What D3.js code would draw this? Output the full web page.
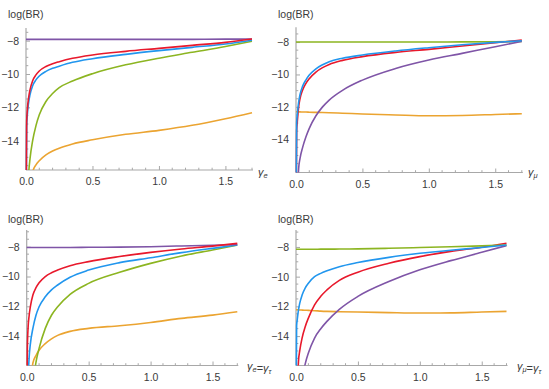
<!DOCTYPE html>
<html><head><meta charset="utf-8">
<script src="https://cdn.jsdelivr.net/npm/d3@7"></script>
<style>
html,body{margin:0;padding:0;background:#fff;}
svg{display:block;}
text{font-family:"Liberation Sans",Arial,sans-serif;}
</style></head>
<body>
<svg id="chart" width="549" height="389"></svg>
<script>
// shared sample grid of the coupling gamma
const gamma = [0, 0.005, 0.01, 0.02, 0.03, 0.05, 0.075, 0.1, 0.15, 0.2, 0.25, 0.35, 0.5, 0.75, 1.0, 1.25, 1.5, 1.7];

// panel 1 : gamma_e
const p1Purple = [-7.92,-7.92,-7.92,-7.92,-7.92,-7.92,-7.92,-7.92,-7.92,-7.92,-7.92,-7.92,-7.92,-7.92,-7.92,-7.92,-7.91,-7.9];
const p1Red    = [-20,-12.9,-12.15,-11.4,-10.95,-10.4,-10.05,-9.82,-9.55,-9.38,-9.26,-9.06,-8.86,-8.64,-8.46,-8.28,-8.1,-7.9];
const p1Blue   = [-20,-13.2,-12.45,-11.7,-11.25,-10.7,-10.35,-10.12,-9.84,-9.66,-9.53,-9.3,-9.08,-8.82,-8.6,-8.4,-8.2,-7.97];
const p1Green  = [-20,-20,-18,-16.0,-15.1,-14.0,-13.1,-12.45,-11.65,-11.17,-10.82,-10.42,-9.98,-9.45,-9.05,-8.7,-8.35,-8.04];
const p1Orange = [-20,-20,-20,-19,-18,-15.9,-15.45,-15.2,-14.85,-14.62,-14.45,-14.2,-13.95,-13.62,-13.38,-13.08,-12.68,-12.32];

// panel 2 : gamma_mu
const p2Green  = [-8.0,-8.0,-8.0,-8.0,-8.0,-8.0,-8.0,-8.0,-8.0,-8.0,-8.0,-8.0,-8.0,-8.0,-8.0,-7.99,-7.98,-7.97];
const p2Red    = [-20,-13.5,-12.9,-12.0,-11.5,-10.96,-10.55,-10.26,-9.85,-9.58,-9.38,-9.13,-8.9,-8.64,-8.45,-8.24,-8.04,-7.88];
const p2Blue   = [-20,-13.0,-12.45,-11.7,-11.25,-10.72,-10.33,-10.04,-9.65,-9.4,-9.21,-9.0,-8.8,-8.55,-8.35,-8.17,-8.02,-7.92];
const p2Purple = [-20,-20,-18,-15.8,-15.2,-14.5,-13.85,-13.33,-12.55,-12.0,-11.58,-10.98,-10.35,-9.63,-9.11,-8.7,-8.29,-7.96];
const p2Orange = [-12.3,-12.3,-12.3,-12.31,-12.31,-12.32,-12.32,-12.33,-12.34,-12.35,-12.36,-12.39,-12.44,-12.5,-12.55,-12.53,-12.47,-12.42];

// panel 3 : gamma_e = gamma_tau
const p3Purple = [-8.05,-8.05,-8.05,-8.05,-8.05,-8.05,-8.05,-8.05,-8.05,-8.05,-8.05,-8.05,-8.04,-8.03,-8.0,-7.95,-7.9,-7.85];
const p3Red    = [-20,-15.0,-13.6,-12.6,-12.0,-11.24,-10.75,-10.42,-10.0,-9.75,-9.57,-9.28,-9.0,-8.66,-8.38,-8.15,-7.96,-7.78];
const p3Blue   = [-20,-20,-17.5,-15.4,-14.5,-13.48,-12.6,-12.03,-11.36,-10.9,-10.57,-10.05,-9.57,-9.07,-8.74,-8.4,-8.11,-7.89];
const p3Green  = [-20,-20,-20,-19,-18.5,-17.3,-15.75,-14.82,-13.48,-12.6,-12.03,-11.2,-10.46,-9.72,-9.12,-8.62,-8.22,-7.89];
const p3Orange = [-20,-20,-20,-18.5,-17.5,-15.8,-15.3,-14.95,-14.5,-14.18,-13.95,-13.68,-13.48,-13.3,-13.08,-12.81,-12.59,-12.36];

// panel 4 : gamma_mu = gamma_tau
const p4Green  = [-8.16,-8.16,-8.16,-8.16,-8.16,-8.16,-8.16,-8.16,-8.16,-8.15,-8.15,-8.14,-8.13,-8.09,-8.04,-7.99,-7.93,-7.87];
const p4Blue   = [-20,-13.3,-12.9,-12.23,-11.8,-11.22,-10.75,-10.44,-10.0,-9.78,-9.61,-9.33,-9.05,-8.7,-8.43,-8.22,-8.04,-7.87];
const p4Red    = [-20,-20,-18,-15.7,-15.0,-14.1,-13.35,-12.79,-11.9,-11.32,-10.89,-10.25,-9.7,-9.1,-8.65,-8.3,-8.02,-7.75];
const p4Purple = [-20,-20,-20,-20,-19,-16.9,-15.85,-15.14,-14.13,-13.5,-13.01,-12.2,-11.33,-10.33,-9.54,-8.92,-8.36,-7.91];
const p4Orange = [-12.23,-12.23,-12.23,-12.24,-12.24,-12.25,-12.26,-12.27,-12.29,-12.32,-12.34,-12.36,-12.38,-12.42,-12.45,-12.44,-12.38,-12.34];

const xTicks = [0, 0.5, 1.0, 1.5];
const xTickLabels = ["0.0", "0.5", "1.0", "1.5"];
const yTicks = [-8, -10, -12, -14];
const yTickLabels = ["\u22128", "\u221210", "\u221212", "\u221214"];
const yLabel = "log(BR)";

const colors = {red:"#e8192c", blue:"#2196ee", green:"#8cb521", orange:"#eba431", purple:"#7f55a7"};

const panels = [
  {xr:[26,252], yd:[-15.76,-7.24], yr:[170,28], xLab:["e"], xLabPos:[258,176], yLabPos:[8,18],
   series:[["orange",p1Orange],["green",p1Green],["purple",p1Purple],["blue",p1Blue],["red",p1Red]]},
  {xr:[296,521.8], yd:[-16.05,-7.09], yr:[172.5,27.3], xLab:["\u03bc"], xLabPos:[528,176], yLabPos:[278,18],
   series:[["orange",p2Orange],["green",p2Green],["purple",p2Purple],["red",p2Red],["blue",p2Blue]]},
  {xr:[26.7,237.3], yd:[-15.97,-6.88], yr:[365.5,230], xLab:["e","\u03c4"], xLabPos:[247,369.5], yLabPos:[8,223],
   series:[["orange",p3Orange],["green",p3Green],["blue",p3Blue],["purple",p3Purple],["red",p3Red]]},
  {xr:[296,506.5], yd:[-15.98,-6.86], yr:[365.5,230], xLab:["\u03bc","\u03c4"], xLabPos:[517,369.5], yLabPos:[278,223],
   series:[["orange",p4Orange],["purple",p4Purple],["red",p4Red],["green",p4Green],["blue",p4Blue]]}
];

const svg = d3.select("#chart");
const axisColor = "#a8a8a8";
const labelColor = "#3a3a3a";

panels.forEach((p, i) => {
  const x = d3.scaleLinear().domain([0, 1.7]).range(p.xr);
  const y = d3.scaleLinear().domain(p.yd).range(p.yr);
  const g = svg.append("g");

  const cid = "clip" + i;
  svg.append("clipPath").attr("id", cid).append("rect")
    .attr("x", p.xr[0] - 1).attr("y", p.yr[1])
    .attr("width", p.xr[1] - p.xr[0] + 3).attr("height", p.yr[0] - p.yr[1]);

  // x axis
  const xAxis = d3.axisBottom(x).tickValues(xTicks).tickSizeInner(-4).tickSizeOuter(0)
    .tickFormat((d, k) => xTickLabels[k]).tickPadding(8);
  const gx = g.append("g").attr("transform", `translate(0,${p.yr[0]})`).call(xAxis);
  gx.select(".domain").attr("stroke", axisColor).attr("stroke-width", 1.2)
    .attr("d", `M${p.xr[0]},0H${p.xr[1] + 1}`);
  gx.selectAll(".tick line").attr("stroke", axisColor);
  gx.selectAll(".tick text").attr("fill", labelColor).attr("font-size", 10.5);
  const xMinor = d3.range(1, 18).map(k => k / 10).filter(v => Math.abs(v * 2 - Math.round(v * 2)) > 1e-6);
  g.append("g").selectAll("line").data(xMinor).join("line")
    .attr("x1", d => x(d)).attr("x2", d => x(d))
    .attr("y1", p.yr[0]).attr("y2", p.yr[0] - 2.3)
    .attr("stroke", axisColor).attr("stroke-width", 1);

  // y axis
  const yAxis = d3.axisLeft(y).tickValues(yTicks).tickSizeInner(-4).tickSizeOuter(0)
    .tickFormat((d, k) => yTickLabels[k]).tickPadding(7);
  const gy = g.append("g").attr("transform", `translate(${p.xr[0]},0)`).call(yAxis);
  gy.select(".domain").attr("stroke", axisColor).attr("stroke-width", 1.2)
    .attr("d", `M0,${p.yr[0]}V${p.yr[1]}`);
  gy.selectAll(".tick line").attr("stroke", axisColor);
  gy.selectAll(".tick text").attr("fill", labelColor).attr("font-size", 10.5);
  const yMinor = d3.range(-31, -13).map(k => k / 2).filter(v => v > p.yd[0] && v < p.yd[1] && !yTicks.includes(v));
  g.append("g").selectAll("line").data(yMinor).join("line")
    .attr("x1", p.xr[0]).attr("x2", p.xr[0] + 2.3)
    .attr("y1", d => y(d)).attr("y2", d => y(d))
    .attr("stroke", axisColor).attr("stroke-width", 1);

  g.append("text").attr("x", p.yLabPos[0]).attr("y", p.yLabPos[1])
    .attr("font-size", 10.5).attr("fill", labelColor).text(yLabel);

  const xl = g.append("text").attr("x", p.xLabPos[0]).attr("y", p.xLabPos[1])
    .attr("font-size", 11).attr("fill", labelColor);
  p.xLab.forEach((s, k) => {
    if (k > 0) xl.append("tspan").attr("font-style", "normal").text("=");
    xl.append("tspan").attr("font-style", "italic").text("\u03b3");
    xl.append("tspan").attr("font-style", "italic").attr("font-size", 7.5).attr("dy", 2).text(s);
    xl.append("tspan").attr("dy", -2).text("");
  });

  const line = d3.line()
    .x((d, k) => x(gamma[k]))
    .y(d => y(d))
    .curve(d3.curveMonotoneX);
  const cg = g.append("g").attr("clip-path", `url(#${cid})`);
  p.series.forEach(([c, vals]) => {
    cg.append("path").datum(vals).attr("d", line)
      .attr("fill", "none").attr("stroke", colors[c]).attr("stroke-width", 1.6)
      .attr("stroke-linejoin", "round");
  });
});
</script>
</body></html>
